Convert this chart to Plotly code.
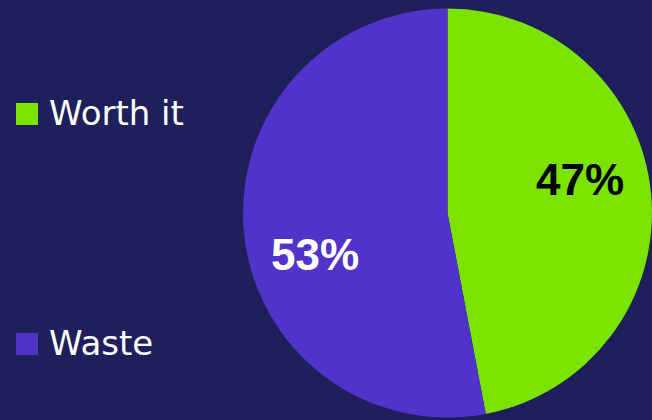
import math
import plotly.graph_objects as go

labels = ["Worth it", "Waste"]
values = [47, 53]
colors = ["#7be300", "#5233c9"]
text_colors = ["#000000", "#ffffff"]

W, H = 652, 420
bg = "#1e1f5b"

# pie domain (paper fractions)
dom_x = [243 / W, 1.0]
dom_y = [1 - 419 / H, 1 - 7 / H]

fig = go.Figure()
fig.add_trace(go.Pie(
    labels=labels, values=values,
    marker=dict(colors=colors, line=dict(width=0)),
    sort=False, direction="clockwise", rotation=0,
    textinfo="none",
    hoverinfo="label+percent",
    domain=dict(x=dom_x, y=dom_y),
    showlegend=False,
))

# percent labels placed inside slices, derived from the values
cx = (dom_x[0] + dom_x[1]) / 2 * W
cy = (1 - (dom_y[0] + dom_y[1]) / 2) * H
r = min((dom_x[1] - dom_x[0]) * W, (dom_y[1] - dom_y[0]) * H) / 2
total = sum(values)
cum = 0
label_r = 0.675
angle_shift = -10.3
label_dy = 4
for v, tc in zip(values, text_colors):
    mid = (cum + v / 2) / total * 360 + angle_shift
    cum += v
    a = math.radians(mid)
    px = cx + label_r * r * math.sin(a)
    py = cy + label_dy - label_r * r * math.cos(a)
    fig.add_annotation(text=f"{round(v / total * 100)}%", xref="paper", yref="paper",
                       x=px / W, y=1 - py / H, xanchor="center", yanchor="middle",
                       showarrow=False,
                       font=dict(family="Liberation Sans, Arial, sans-serif", size=44,
                                 color=tc, weight="bold"))

# custom legend
legend_y = [113, 343]
for lab, col, ly in zip(labels, colors, legend_y):
    fig.add_shape(type="rect", xref="paper", yref="paper",
                  x0=16 / W, x1=38 / W, y0=1 - (ly + 12) / H, y1=1 - (ly - 10) / H,
                  fillcolor=col, line=dict(width=0))
    fig.add_annotation(text=lab, xref="paper", yref="paper", x=47 / W, y=1 - ly / H,
                       xanchor="left", yanchor="middle", showarrow=False,
                       font=dict(family="DejaVu Sans, sans-serif", size=34, color="#ffffff"))

fig.update_layout(
    width=W, height=H,
    margin=dict(l=0, r=0, t=0, b=0),
    paper_bgcolor=bg, plot_bgcolor=bg,
)
fig.write_html("out.html", config={"displayModeBar": False},
               post_script="document.body.style.margin='0';document.body.style.background='%s';" % bg)
